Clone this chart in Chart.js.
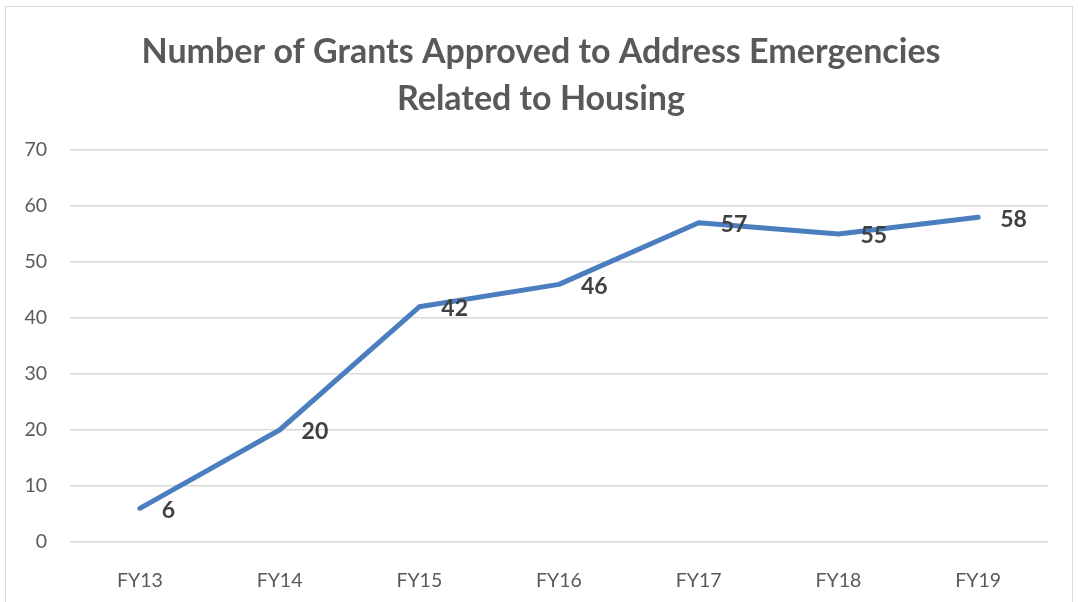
<!DOCTYPE html>
<html>
<head>
<meta charset="utf-8">
<script src="https://cdn.jsdelivr.net/npm/chart.js@4"></script>
<style>
  html, body { margin: 0; padding: 0; background: #fff; overflow: hidden; }
  #wrap { position: relative; width: 1078px; height: 602px; }
  #frame { position: absolute; left: 5px; top: 6px; width: 1066px; height: 610px; border: 1px solid #d9d9d9; pointer-events: none; }
</style>
</head>
<body>
<div id="wrap">
  <canvas id="grantsChart" width="1078" height="602"></canvas>
  <div id="frame"></div>
</div>
<script>
const fiscalYears = ['FY13', 'FY14', 'FY15', 'FY16', 'FY17', 'FY18', 'FY19'];
const grantsApproved = [6, 20, 42, 46, 57, 55, 58];
const chartTitle = ['Number of Grants Approved to Address Emergencies', 'Related to Housing'];

const fontFamily = 'Lato, "Open Sans", sans-serif';

// título desenhado à mão, centrado como no original
const titleDraw = {
    id: 'titleDraw',
    afterDraw(chart) {
        const ctx = chart.ctx;
        ctx.save();
        ctx.font = 'bold 34px ' + fontFamily;
        ctx.fillStyle = '#595959';
        ctx.textAlign = 'center';
        ctx.textBaseline = 'middle';
        chartTitle.forEach((line, i) => {
            ctx.fillText(line, 541, 52 + i * 47);
        });
        ctx.restore();
    }
};

// etiquetas de valor à direita de cada ponto
const pointLabels = {
    id: 'pointLabels',
    afterDatasetsDraw(chart) {
        const ctx = chart.ctx;
        const meta = chart.getDatasetMeta(0);
        ctx.save();
        ctx.font = 'bold 23px ' + fontFamily;
        ctx.fillStyle = '#404040';
        ctx.textAlign = 'left';
        ctx.textBaseline = 'middle';
        meta.data.forEach((pt, i) => {
            ctx.fillText(String(grantsApproved[i]), pt.x + 22, pt.y + 2);
        });
        ctx.restore();
    }
};

new Chart(document.getElementById('grantsChart'), {
    type: 'line',
    data: {
        labels: fiscalYears,
        datasets: [{
            data: grantsApproved,
            borderColor: '#4a7ebf',
            borderWidth: 5,
            pointRadius: 0,
            tension: 0,
            borderCapStyle: 'round',
            borderJoinStyle: 'round'
        }]
    },
    options: {
        responsive: false,
        animation: false,
        layout: { padding: { left: 0, right: 30, top: 150, bottom: 0 } },
        plugins: {
            legend: { display: false },
            tooltip: { enabled: false },
            title: { display: false }
        },
        scales: {
            x: {
                offset: true,
                grid: { display: false },
                border: { display: false },
                ticks: { color: '#595959', font: { family: fontFamily, size: 19.5 }, padding: 19 },
                afterFit(scale) { scale.height = 60; }
            },
            y: {
                min: 0,
                max: 70,
                ticks: { stepSize: 10, color: '#595959', font: { family: fontFamily, size: 19.5 }, padding: 23 },
                grid: { color: '#d9d9d9', lineWidth: 1.5, drawTicks: false },
                border: { display: false },
                afterFit(scale) { scale.width = 70; }
            }
        }
    },
    plugins: [pointLabels, titleDraw]
});
</script>
</body>
</html>
